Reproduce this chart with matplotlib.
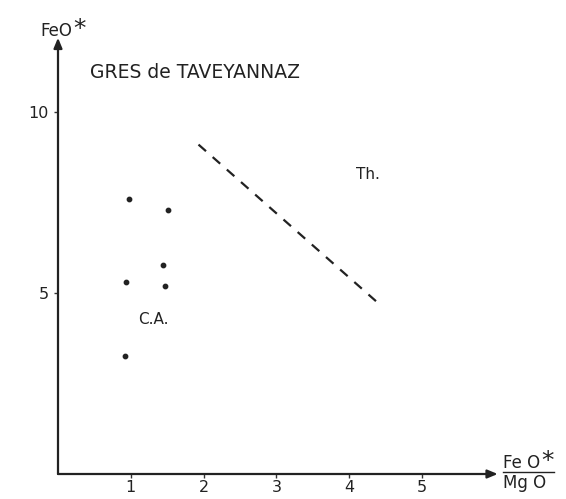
import matplotlib.pyplot as plt

# FeO*/MgO ratio vs FeO* for the Taveyannaz sandstone samples
ratio = [0.97, 1.51, 1.44, 0.94, 1.47, 0.92]
feo = [7.6, 7.3, 5.77, 5.3, 5.2, 3.25]

# Dashed boundary between calc-alkaline and tholeiitic fields
boundary_x = [1.93, 4.41]
boundary_y = [9.1, 4.7]

xticks = [1, 2, 3, 4, 5]
yticks = [5, 10]

plt.rcParams["font.family"] = ["DejaVu Sans"]

W, H = 566, 499
x0, y0 = 58, 474          # pixel position of the origin
sx, sy = 72.8, 36.2       # pixels per data unit
xmax, ymax = 6.9, 12.9
ink = "#222222"

fig = plt.figure(figsize=(W / 100, H / 100), dpi=100)
ax = fig.add_axes([x0 / W, (H - y0) / H, sx * xmax / W, sy * ymax / H])
ax.set_xlim(0, xmax)
ax.set_ylim(0, ymax)
for s in ax.spines.values():
    s.set_visible(False)

# axis arrows
arrow = dict(arrowstyle="-|>,head_length=0.6,head_width=0.25", color=ink,
             lw=1.6, shrinkA=0, shrinkB=0)
ax.annotate("", xy=(6.04, 0), xytext=(0, 0), arrowprops=arrow, annotation_clip=False)
ax.annotate("", xy=(0, 12.05), xytext=(0, 0), arrowprops=arrow, annotation_clip=False)

ax.set_xticks(xticks)
ax.set_yticks(yticks)
ax.tick_params(direction="out", length=3, width=1, color="#333333",
               labelsize=11.5, labelcolor=ink)
ax.tick_params(axis="x", pad=1)

ax.scatter(ratio, feo, s=10, color=ink, zorder=3)
ax.plot(boundary_x, boundary_y, ls=(0, (4.5, 4.0)), lw=1.6, color=ink)

txt = dict(color=ink, fontsize=11)
ax.text(0.44, 11.1, "GRES de TAVEYANNAZ", fontsize=13.5, va="center", ha="left",
        color=ink)
ax.text(4.1, 8.26, "Th.", va="center", ha="left", **txt)
ax.text(1.1, 4.28, "C.A.", va="center", ha="left", **txt)


def starred(x, y, label):
    # label followed by a large raised asterisk, on a common baseline
    t = fig.text(x / W, 1 - y / H, label, fontsize=12, va="baseline", ha="left",
                 color=ink)
    fig.canvas.draw()
    bb = t.get_window_extent()
    fig.text((bb.x1 + 1) / W, 1 - y / H, "*", fontsize=18, va="baseline",
             ha="left", color=ink)


# axis labels
starred(40, 36, "FeO")
starred(503, 468, "Fe O")
fig.text(503 / W, 1 - 488 / H, "Mg O", fontsize=12, va="baseline", ha="left", color=ink)
fig.add_artist(plt.Line2D([503 / W, 554 / W], [1 - 472 / H, 1 - 472 / H],
                          lw=1, color=ink))

fig.savefig("out.png", dpi=100)
